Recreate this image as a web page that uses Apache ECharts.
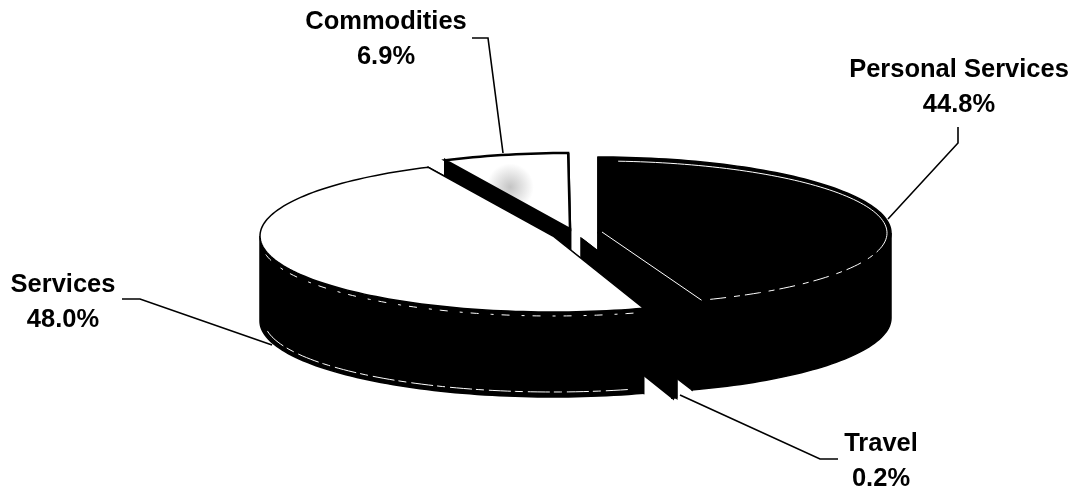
<!DOCTYPE html>
<html>
<head>
<meta charset="utf-8">
<style>
  html, body { margin: 0; padding: 0; background: #fff; }
  #chart { width: 1076px; height: 489px; }
</style>
<script src="https://cdn.jsdelivr.net/npm/echarts@6/dist/echarts.min.js"></script>
</head>
<body>
<div id="chart"></div>
<script>
// values, clockwise from 12 o'clock
const categories = ['Personal Services', 'Travel', 'Services', 'Commodities']
const shares = [44.8, 0.2, 48.0, 6.9]

// back to front
const drawOrder = [3, 0, 1, 2]

// layout of the tilted pie
const RX = 293
const RY = 76
const DEPTH = 85
const sliceLayout = [
  { cx: 598, cy: 233, top: '#000', edge: 1.5, label: [959, 87], leader: [[958, 127], [958, 143], [888, 219]] },
  { cx: 582, cy: 240, top: '#000', edge: 3, label: [881, 461], leader: [[680, 395], [820, 459], [838, 459]] },
  { cx: 553, cy: 236, top: '#fff', edge: 1.5, label: [63, 302], leader: [[122, 299], [140, 299], [272, 345]] },
  { cx: 570, cy: 229, top: 'stipple', edge: 2.5, label: [386, 39], leader: [[472, 38], [488, 38], [503, 153]] }
]

let acc = 0
const angles = shares.map(v => {
  const range = [acc * 3.6, (acc + v) * 3.6]
  acc += v
  return range
})

function pt(c, deg, depth, inset) {
  const a = deg * Math.PI / 180
  const d = inset || 0
  return [c.cx + (RX - d) * Math.sin(a), c.cy - (RY - d) * Math.cos(a) + (depth || 0)]
}

function arc(c, from, to, depth, inset) {
  const n = Math.max(2, Math.ceil(Math.abs(to - from) / 1.5))
  const out = []
  for (let i = 0; i <= n; i++) {
    out.push(pt(c, from + (to - from) * i / n, depth, inset))
  }
  return out
}

function polygon(points, style) {
  return { type: 'polygon', shape: { points }, style }
}

function whiteLine(points, dash) {
  return {
    type: 'polyline',
    shape: { points },
    style: { stroke: '#fff', fill: null, lineWidth: 1, lineDash: dash || null }
  }
}

function renderSlice(params, api) {
  const idx = api.value(0)
  const c = sliceLayout[idx]
  const [start, end] = angles[idx]
  const apex = [c.cx, c.cy]
  const apexLow = [c.cx, c.cy + DEPTH]
  const solid = { fill: '#000', stroke: '#000', lineWidth: c.edge }
  const children = []

  // cut faces
  children.push(polygon([apex, pt(c, start), pt(c, start, DEPTH), apexLow], solid))
  children.push(polygon([apex, pt(c, end), pt(c, end, DEPTH), apexLow], solid))

  // outer wall, only the part that faces the viewer
  const wallFrom = Math.max(start, 90)
  const wallTo = Math.min(end, 270)
  if (wallTo > wallFrom) {
    children.push(polygon(
      arc(c, wallFrom, wallTo, 0).concat(arc(c, wallTo, wallFrom, DEPTH)), solid))
  }

  // top face
  let fill = c.top
  if (fill === 'stipple') {
    fill = new echarts.graphic.RadialGradient(0.52, 0.45, 0.3, [
      { offset: 0, color: '#c4c4c4' },
      { offset: 1, color: '#ffffff' }
    ])
  }
  children.push(polygon([apex].concat(arc(c, start, end, 0)), {
    fill, stroke: '#000', lineWidth: c.edge
  }))

  // scanned highlights along the rims
  if (idx === 0) {
    children.push(whiteLine(arc(c, 4, 95, 0, 4), null))
    children.push(whiteLine(arc(c, 95, 158, 0, 4), [16, 5, 6, 8]))
    children.push(whiteLine([[c.cx + 4, c.cy - 1], pt(c, 159, 0, 4)], null))
  }
  if (idx === 2) {
    children.push(whiteLine(arc(c, 164, 262, 5, 1), [8, 8, 3, 12]))
    children.push(whiteLine(arc(c, 165, 264, DEPTH - 1, 4), [22, 5, 8, 4]))
  }

  // label and leader
  children.push({
    type: 'polyline',
    shape: { points: c.leader },
    style: { stroke: '#000', fill: null, lineWidth: 1.6 }
  })
  children.push({
    type: 'text',
    style: {
      x: c.label[0],
      y: c.label[1],
      text: categories[idx] + '\n' + api.value(1).toFixed(1) + '%',
      fill: '#000',
      font: 'bold 25.5px "Liberation Sans", Arial, sans-serif',
      lineHeight: 35,
      align: 'center',
      verticalAlign: 'middle'
    }
  })
  return { type: 'group', children }
}

const chart = echarts.init(document.getElementById('chart'), null, { renderer: 'canvas' })
chart.setOption({
  backgroundColor: '#fff',
  animation: false,
  series: [{
    type: 'custom',
    coordinateSystem: 'none',
    renderItem: renderSlice,
    data: drawOrder.map(i => [i, shares[i]])
  }]
})
</script>
</body>
</html>
